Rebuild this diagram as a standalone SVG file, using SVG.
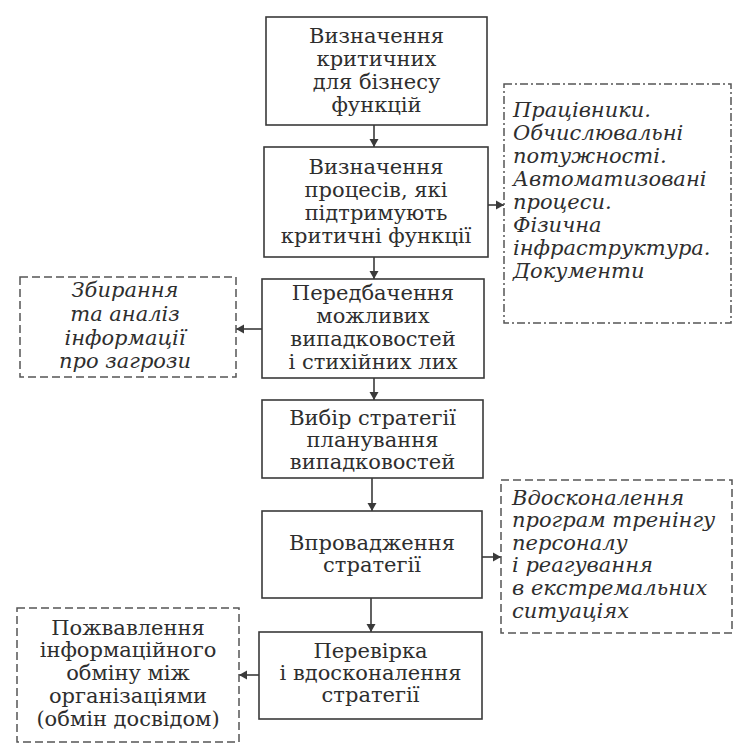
<svg xmlns="http://www.w3.org/2000/svg" width="738" height="750" viewBox="0 0 738 750">
<style>
.box{fill:#fff;stroke:#3a3a3a;stroke-width:1.6}
.dash{fill:none;stroke:#555;stroke-width:1.5;stroke-dasharray:8 4}
.dashdot{fill:none;stroke:#555;stroke-width:1.5;stroke-dasharray:8 3 2 3}
.t{font-family:"DejaVu Serif","Liberation Serif",serif;font-size:21px;fill:#2e2e2e;text-anchor:middle}
.i{font-family:"DejaVu Serif","Liberation Serif",serif;font-size:21px;fill:#2e2e2e;font-style:italic}
.ic{text-anchor:middle}
.con{stroke:#3a3a3a;stroke-width:1.6;fill:none;marker-end:url(#ah)}
</style>
<defs>
<marker id="ah" markerUnits="userSpaceOnUse" markerWidth="10" markerHeight="10" refX="8" refY="5" orient="auto">
<path d="M0,0.5 L8,5 L0,9.5 Z" fill="#3a3a3a"/>
</marker>
</defs>
<rect width="738" height="750" fill="#fff"/>
<g id="connectors">
<line class="con" x1="374" y1="125" x2="374" y2="147"/>
<line class="con" x1="374" y1="257" x2="374" y2="279"/>
<line class="con" x1="374" y1="378" x2="374" y2="400"/>
<line class="con" x1="372" y1="478" x2="372" y2="511"/>
<line class="con" x1="371" y1="598" x2="371" y2="632"/>
<line class="con" x1="488" y1="205" x2="504" y2="205"/>
<line class="con" x1="262" y1="329" x2="236" y2="329"/>
<line class="con" x1="482" y1="557" x2="501" y2="557"/>
<line class="con" x1="259" y1="675" x2="239" y2="675"/>
</g>
<g id="n1">
<rect class="box" x="266" y="17" width="221" height="108"/>
<text class="t" x="376.5" y="43">Визначення</text>
<text class="t" x="376.5" y="66">критичних</text>
<text class="t" x="376.5" y="89">для бізнесу</text>
<text class="t" x="376.5" y="112">функцій</text>
</g>
<g id="n2">
<rect class="box" x="264" y="147" width="224" height="110"/>
<text class="t" x="376" y="174">Визначення</text>
<text class="t" x="376" y="197">процесів, які</text>
<text class="t" x="376" y="220">підтримують</text>
<text class="t" x="376" y="243">критичні функції</text>
</g>
<g id="r1">
<rect class="dashdot" x="504" y="84" width="227" height="239"/>
<text class="i" x="513" y="117">Працівники.</text>
<text class="i" x="513" y="140">Обчислювальні</text>
<text class="i" x="513" y="163">потужності.</text>
<text class="i" x="513" y="186">Автоматизовані</text>
<text class="i" x="513" y="209">процеси.</text>
<text class="i" x="513" y="232">Фізична</text>
<text class="i" x="513" y="255">інфраструктура.</text>
<text class="i" x="513" y="278">Документи</text>
</g>
<g id="n3">
<rect class="box" x="262" y="279" width="222" height="99"/>
<text class="t" x="373" y="300">Передбачення</text>
<text class="t" x="373" y="323">можливих</text>
<text class="t" x="373" y="346">випадковостей</text>
<text class="t" x="373" y="369">і стихійних лих</text>
</g>
<g id="l1">
<rect class="dash" x="20" y="277" width="216" height="100"/>
<text class="i ic" x="125" y="297">Збирання</text>
<text class="i ic" x="125" y="321">та аналіз</text>
<text class="i ic" x="125" y="345">інформації</text>
<text class="i ic" x="125" y="368">про загрози</text>
</g>
<g id="n4">
<rect class="box" x="262" y="400" width="221" height="78"/>
<text class="t" x="372.5" y="425">Вибір стратегії</text>
<text class="t" x="372.5" y="447">планування</text>
<text class="t" x="372.5" y="469">випадковостей</text>
</g>
<g id="n5">
<rect class="box" x="262" y="511" width="220" height="87"/>
<text class="t" x="372" y="550">Впровадження</text>
<text class="t" x="372" y="572">стратегії</text>
</g>
<g id="r2">
<rect class="dash" x="501" y="480" width="231" height="153"/>
<text class="i" x="512" y="505">Вдосконалення</text>
<text class="i" x="512" y="527">програм тренінгу</text>
<text class="i" x="512" y="550">персоналу</text>
<text class="i" x="512" y="572">і реагування</text>
<text class="i" x="512" y="595">в екстремальних</text>
<text class="i" x="512" y="618">ситуаціях</text>
</g>
<g id="n6">
<rect class="box" x="259" y="632" width="223" height="87"/>
<text class="t" x="370.5" y="658">Перевірка</text>
<text class="t" x="370.5" y="680">і вдосконалення</text>
<text class="t" x="370.5" y="702">стратегії</text>
</g>
<g id="l3">
<rect class="dash" x="17" y="608" width="222" height="134"/>
<text class="t" x="128" y="635">Пожвавлення</text>
<text class="t" x="128" y="657">інформаційного</text>
<text class="t" x="128" y="680">обміну між</text>
<text class="t" x="128" y="703">організаціями</text>
<text class="t" x="128" y="726">(обмін досвідом)</text>
</g>
</svg>
